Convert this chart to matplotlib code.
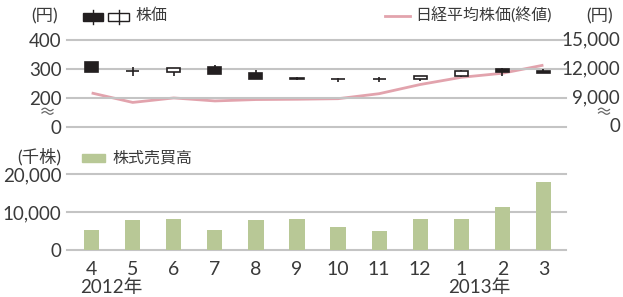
import numpy as np
import matplotlib.pyplot as plt
from matplotlib.patches import Rectangle
from matplotlib.lines import Line2D

plt.rcParams['font.family'] = ['Lato', 'Noto Sans CJK JP', 'DejaVu Sans']

months = ['4', '5', '6', '7', '8', '9', '10', '11', '12', '1', '2', '3']
years = ['2012年', '2013年']

# 株価 (open, high, low, close)
open_p = [323, 294, 290, 307, 285, 270, 264, 264, 264, 275, 299, 292]
high_p = [325, 308, 305, 314, 296, 272, 270, 272, 275, 296, 303, 300]
low_p = [290, 277, 277, 283, 267, 262, 255, 255, 258, 273, 275, 285]
close_p = [291, 294, 305, 283, 267, 264, 264, 264, 275, 294, 290, 285]

# 日経平均株価 (終値)
nikkei = [9520, 8542, 9006, 8695, 8839, 8870, 8928, 9446, 10395, 11139, 11559, 12398]

# 株式売買高 (千株)
volume = [5340, 7890, 8160, 5340, 7890, 8160, 6050, 5000, 8160, 8160, 11320, 17900]

# 軸目盛
left_ticks = [100, 200, 300, 400]
left_labels = ['0', '200', '300', '400']
right_ticks = [6000, 9000, 12000, 15000]
right_labels = ['0', '9,000', '12,000', '15,000']
vol_ticks = [0, 10000, 20000]
vol_labels = ['0', '10,000', '20,000']

W, H = 623, 297
grid_c = '#c4c4c4'
txt_c = '#3a3a3a'
black_c = '#231f20'
pink_c = '#e2a3ad'
green_c = '#b8c896'

fig = plt.figure(figsize=(W / 100, H / 100), dpi=100)


def fx(x):
    return x / W


def fy(y):
    return 1 - y / H


x0, x1 = 67, 566
ax = fig.add_axes([fx(x0), fy(127), fx(x1 - x0), fy(40) - fy(127)])
ax2 = ax.twinx()
axb = fig.add_axes([fx(x0), fy(250), fx(x1 - x0), fy(174.3) - fy(250)])

xs = list(range(len(months)))
xlim = (-0.6, 11.55)

# top panel
ax.set_xlim(*xlim)
ax.set_ylim(100, 400)
ax2.set_ylim(6000, 15000)
ax.set_yticks(left_ticks)
ax.set_yticklabels(left_labels)
ax2.set_yticks([])
for v in left_ticks:
    ax.axhline(v, color=grid_c, lw=1.5, zorder=0, clip_on=False)

# right axis labels, right aligned at the figure edge
rx = (620 - x0) / (x1 - x0)
for v, lab in zip(right_ticks, right_labels):
    ax2.text(rx, v, lab, transform=ax2.get_yaxis_transform(), ha='right',
             va='center', fontsize=13.5, color=txt_c, clip_on=False)

ax2.plot(xs, nikkei, color=pink_c, lw=2, zorder=1, solid_capstyle='butt')

cw = 0.32
for i in xs:
    o, h, l, c = open_p[i], high_p[i], low_p[i], close_p[i]
    ax.vlines(i, l, h, color=black_c, lw=1.2, zorder=3)
    fc = black_c if c < o else 'white'
    ax.bar(i, abs(c - o), width=cw, bottom=min(o, c), color=fc,
           edgecolor=black_c, lw=1.2, zorder=4)
ax.set_zorder(ax2.get_zorder() + 1)
ax.patch.set_visible(False)

for a in (ax, ax2):
    for s in a.spines.values():
        s.set_visible(False)
    a.set_xticks([])
ax.tick_params(axis='y', length=0, pad=4, labelsize=13.5, labelcolor=txt_c)

# break marks (two small waves)
t = np.linspace(0, 1, 30)
for cx in (47.5, 604):
    for yy in (109.5, 113):
        wx = cx - 5.5 + 11 * t
        wy = yy - 1.3 * np.sin(2 * np.pi * t)
        fig.add_artist(Line2D(fx(wx), fy(wy), transform=fig.transFigure,
                              color='#666666', lw=0.9))

# bottom panel
axb.set_xlim(*xlim)
axb.set_ylim(0, 20000)
axb.bar(xs, volume, width=0.37, color=green_c, zorder=2)
for v in vol_ticks:
    axb.axhline(v, color=grid_c, lw=1.5, zorder=1, clip_on=False)
axb.set_yticks(vol_ticks)
axb.set_yticklabels(vol_labels)
axb.set_xticks(xs)
axb.set_xticklabels(months)
for s in axb.spines.values():
    s.set_visible(False)
axb.tick_params(axis='y', length=0, pad=4, labelsize=13.5, labelcolor=txt_c)
axb.tick_params(axis='x', length=0, pad=8, labelsize=14, labelcolor=txt_c)
axb.text(0.47, -0.5, years[0], transform=axb.get_xaxis_transform(),
         ha='center', va='center', fontsize=13.5, color=txt_c)
axb.text(9.45, -0.5, years[1], transform=axb.get_xaxis_transform(),
         ha='center', va='center', fontsize=13.5, color=txt_c)

# legends
fs = 11.5
fig.text(fx(45), fy(16), '(円)', ha='center', va='center', fontsize=12.5, color=txt_c)
fig.add_artist(Rectangle((fx(83), fy(21)), fx(20), fy(13) - fy(21),
                         transform=fig.transFigure, color=black_c))
fig.add_artist(Line2D([fx(93), fx(93)], [fy(10), fy(24)], transform=fig.transFigure,
                      color=black_c, lw=1))
fig.add_artist(Rectangle((fx(108), fy(21)), fx(21), fy(13) - fy(21),
                         transform=fig.transFigure, facecolor='white',
                         edgecolor=black_c, lw=1))
fig.add_artist(Line2D([fx(118.5), fx(118.5)], [fy(10), fy(24)],
                      transform=fig.transFigure, color=black_c, lw=1))
fig.text(fx(135), fy(16), '株価', ha='left', va='center', fontsize=fs, color=txt_c)

fig.add_artist(Line2D([fx(385), fx(410)], [fy(16), fy(16)], transform=fig.transFigure,
                      color=pink_c, lw=2))
fig.text(fx(415), fy(16), '日経平均株価(終値)', ha='left', va='center',
         fontsize=fs, color=txt_c)
fig.text(fx(600), fy(16), '(円)', ha='center', va='center', fontsize=12.5, color=txt_c)

fig.text(fx(39), fy(157), '(千株)', ha='center', va='center', fontsize=12.5, color=txt_c)
fig.add_artist(Rectangle((fx(82), fy(162)), fx(23), fy(154) - fy(162),
                         transform=fig.transFigure, color=green_c))
fig.text(fx(112), fy(158), '株式売買高', ha='left', va='center', fontsize=fs, color=txt_c)

fig.savefig('out.png', dpi=100)
